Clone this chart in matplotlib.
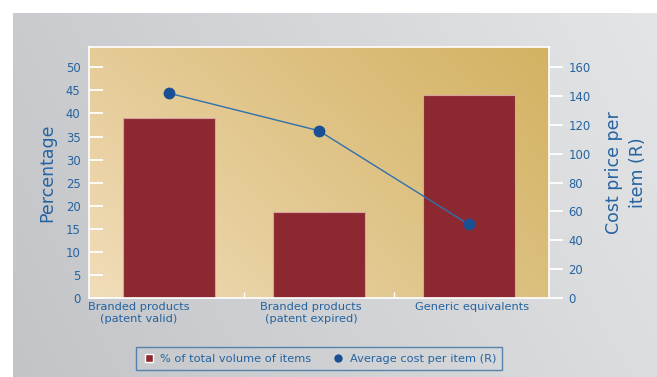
import matplotlib.pyplot as plt
import numpy as np
from matplotlib.colors import to_rgb

# volume share (%) and average price (R) per product group
categories = ['Branded products\n(patent valid)', 'Branded products\n(patent expired)', 'Generic equivalents']
volume_pct = [39, 18.7, 44]
avg_cost = [142, 116, 51]

pct_ticks = [0, 5, 10, 15, 20, 25, 30, 35, 40, 45, 50]
cost_ticks = [0, 20, 40, 60, 80, 100, 120, 140, 160]

text_blue = '#2563a0'
bar_red = '#8c2930'
dot_blue = '#1b4f94'
line_blue = '#2f6fb0'


def corner_gradient(tl, tr, bl, br, n=200):
    # bilinear blend of four corner colours
    tl, tr, bl, br = [np.array(to_rgb(c)) for c in (tl, tr, bl, br)]
    u = np.linspace(0, 1, n)[None, :, None]
    v = np.linspace(0, 1, n)[:, None, None]
    top = tl * (1 - u) + tr * u
    bot = bl * (1 - u) + br * u
    return top * (1 - v) + bot * v


fig = plt.figure(figsize=(6.57, 3.77), dpi=100)

# grey background panel
bg = fig.add_axes([13 / 657, 0, 1 - 13 / 657, 1 - 13 / 377])
bg.imshow(corner_gradient('#c9cbce', '#e4e5e7', '#c2c4c7', '#dcdddf'),
          aspect='auto', extent=[0, 1, 0, 1], interpolation='bilinear')
bg.set_axis_off()

ax = fig.add_axes([89 / 657, 79 / 377, 460 / 657, 251 / 377])
ax.set_zorder(2)
ax.imshow(corner_gradient('#e5cb97', '#d3b262', '#f1ddba', '#dbbf7d'),
          aspect='auto', extent=[0, 1, 0, 1], transform=ax.transAxes,
          interpolation='bilinear', zorder=0)

x = np.arange(len(categories))
ax.bar(x, volume_pct, width=0.615, color=bar_red, edgecolor='#d8a2a2',
       linewidth=0.8, zorder=2)
ax.set_xlim(-0.532, 2.535)
ax.set_ylim(0, 54.4)
ax.set_yticks(pct_ticks)
ax.tick_params(axis='y', direction='in', length=10, width=1.3, color='white',
               labelcolor=text_blue, labelsize=8.4, pad=6)
ax.set_xticks([-0.2, 0.95, 2.02])
ax.set_xticklabels(categories, color=text_blue, fontsize=8.2)
ax.tick_params(axis='x', length=0, pad=3)
ax.set_xticks([0.5, 1.5], minor=True)
ax.tick_params(axis='x', which='minor', direction='in', length=4, width=1, color='white')
for s in ax.spines.values():
    s.set_color('white')
    s.set_linewidth(1.2)
ax.set_ylabel('Percentage', color=text_blue, fontsize=12.5, labelpad=7)

ax2 = ax.twinx()
ax2.set_ylim(0, 174)
ax2.set_yticks(cost_ticks)
ax2.plot(x, avg_cost, '-', color=line_blue, linewidth=1, zorder=3)
ax2.plot(x, avg_cost, 'o', color=dot_blue, markersize=7.5, zorder=4)
ax2.tick_params(axis='y', direction='out', length=10, width=1.3, color='white',
                labelcolor=text_blue, labelsize=8.4, pad=4)
for s in ax2.spines.values():
    s.set_visible(False)
ax2.set_ylabel('Cost price per\nitem (R)', color=text_blue, fontsize=12.5,
               labelpad=10, linespacing=1.45)

# legend below the plot
h1 = plt.Line2D([], [], marker='s', linestyle='none', color=bar_red,
                markeredgecolor='white', markersize=6)
h2 = plt.Line2D([], [], marker='o', linestyle='none', color=dot_blue, markersize=5)
leg = fig.legend([h1, h2], ['% of total volume of items', 'Average cost per item (R)'],
                 loc='center', bbox_to_anchor=(319 / 657, 1 - 358.5 / 377), ncol=2,
                 fontsize=8.2, frameon=True, fancybox=False, handletextpad=0.4,
                 columnspacing=1.8, borderpad=0.55, handlelength=1.2)
leg.get_frame().set_edgecolor('#3a6fa3')
leg.get_frame().set_facecolor('none')
leg.get_frame().set_linewidth(1.0)
for t in leg.get_texts():
    t.set_color(text_blue)

fig.savefig('out.png', dpi=100)
